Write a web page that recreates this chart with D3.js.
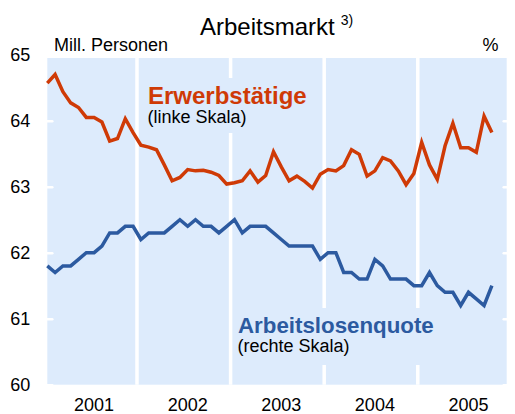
<!DOCTYPE html>
<html><head><meta charset="utf-8">
<script src="https://cdn.jsdelivr.net/npm/d3@7"></script>
<style>
html,body{margin:0;padding:0;background:#fff;}
svg{display:block;font-family:"Liberation Sans",Arial,sans-serif;}
</style></head>
<body><svg id="c" width="515" height="414"></svg>
<script>
// Monthly data Jan 2001 .. Oct 2005
const years = ["2001","2002","2003","2004","2005"];
const erwerbstaetige = [64.57,64.70,64.44,64.27,64.20,64.05,64.05,63.98,63.69,63.73,64.03,63.82,
  63.63,63.60,63.56,63.33,63.09,63.14,63.26,63.24,63.25,63.22,63.17,63.04,
  63.06,63.09,63.24,63.07,63.17,63.53,63.30,63.09,63.16,63.08,62.98,63.19,
  63.26,63.24,63.32,63.56,63.49,63.16,63.24,63.44,63.39,63.24,63.03,63.20,
  63.67,63.33,63.11,63.62,63.96,63.59,63.59,63.52,64.07,63.82];
const arbeitslosenquote = [4.8,4.7,4.8,4.8,4.9,5.0,5.0,5.1,5.3,5.3,5.4,5.4,
  5.2,5.3,5.3,5.3,5.4,5.5,5.4,5.5,5.4,5.4,5.3,5.4,
  5.5,5.3,5.4,5.4,5.4,5.3,5.2,5.1,5.1,5.1,5.1,4.9,
  5.0,5.0,4.7,4.7,4.6,4.6,4.9,4.8,4.6,4.6,4.6,4.5,
  4.5,4.7,4.5,4.4,4.4,4.2,4.4,4.3,4.2,4.5];
const leftTicks = [60,61,62,63,64,65];
const rightTicks = [3,4,5,6,7,8];

const red = "#cf3a06", blue = "#2c5aa0", panel = "#ddebfc";
const svg = d3.select("#c");

const x = d3.scaleLinear().domain([0, 58.9]).range([47.3, 506.7]);
const y = d3.scaleLinear().domain([60, 65]).range([384.7, 54.7]);
const yR = d3.scaleLinear().domain([3, 8]).range([384.7, 54.7]);

// background panel
svg.append("rect").attr("x", x(0)).attr("y", y(64.95))
  .attr("width", x(58.9) - x(0)).attr("height", y(60) - y(64.95)).attr("fill", panel);

// year separators
const bounds = years.slice(1).map((d, i) => 12 * (i + 1) - 0.5);
svg.selectAll("line.sep").data(bounds).join("line").attr("class", "sep")
  .attr("x1", d => x(d)).attr("x2", d => x(d))
  .attr("y1", y(64.95)).attr("y2", y(60))
  .attr("stroke", "#fff").attr("stroke-width", 3.5);

// left axis
const ax = svg.append("g").attr("transform", `translate(${x(0)},0)`)
  .call(d3.axisLeft(y).tickValues(leftTicks).tickSize(-5).tickPadding(17).tickFormat(d3.format("d")));
ax.select(".domain").remove();
ax.selectAll(".tick line").attr("stroke", "#fff").attr("stroke-width", 2.5).attr("stroke-linecap", "round");
ax.selectAll(".tick text").attr("font-size", 18).attr("fill", "#000")
  .attr("font-family", "Liberation Sans, Arial, sans-serif");

// right axis (labels fall outside the picture)
const axR = svg.append("g").attr("transform", `translate(${x(58.9) - 3},0)`)
  .call(d3.axisRight(yR).tickValues(rightTicks).tickSize(5).tickFormat(""));
axR.select(".domain").remove();
axR.selectAll(".tick line").attr("stroke", "#fff").attr("stroke-width", 2.5).attr("stroke-linecap", "round");

// year labels
svg.selectAll("text.yr").data(years).join("text").attr("class", "yr")
  .attr("x", (d, i) => x(12 * i + 6)).attr("y", 411)
  .attr("text-anchor", "middle").attr("font-size", 18).attr("fill", "#000").text(d => d);

// label boxes (cover the separators)
svg.append("rect").attr("x", 145).attr("y", 78).attr("width", 165).attr("height", 55).attr("fill", panel);
svg.append("rect").attr("x", 235).attr("y", 308).attr("width", 215).attr("height", 57).attr("fill", panel);

// lines
const lineL = d3.line().x((d, i) => x(i)).y(d => y(d));
const lineR = d3.line().x((d, i) => x(i)).y(d => yR(d));
svg.append("path").datum(erwerbstaetige).attr("d", lineL).attr("fill", "none")
  .attr("stroke", red).attr("stroke-width", 3.5).attr("stroke-linejoin", "miter");
svg.append("path").datum(arbeitslosenquote).attr("d", lineR).attr("fill", "none")
  .attr("stroke", blue).attr("stroke-width", 3.5).attr("stroke-linejoin", "miter");

// labels
svg.append("text").attr("x", 148).attr("y", 104).attr("font-size", 24).attr("font-weight", "bold")
  .attr("fill", red).text("Erwerbstätige");
svg.append("text").attr("x", 147.5).attr("y", 123).attr("font-size", 18).attr("fill", "#000").text("(linke Skala)");
svg.append("text").attr("x", 238).attr("y", 333).attr("font-size", 22.3).attr("font-weight", "bold")
  .attr("fill", blue).text("Arbeitslosenquote");
svg.append("text").attr("x", 237.5).attr("y", 352).attr("font-size", 18).attr("fill", "#000").text("(rechte Skala)");

// title and units
const t = svg.append("text").attr("x", 200).attr("y", 35).attr("font-size", 24).attr("fill", "#000");
t.append("tspan").text("Arbeitsmarkt");
t.append("tspan").attr("dx", 6).attr("dy", -10).attr("font-size", 14).text("3)");
svg.append("text").attr("x", 54).attr("y", 50.5).attr("font-size", 18).attr("fill", "#000").text("Mill. Personen");
svg.append("text").attr("x", 482.5).attr("y", 50.5).attr("font-size", 18).attr("fill", "#000").text("%");
</script></body></html>
